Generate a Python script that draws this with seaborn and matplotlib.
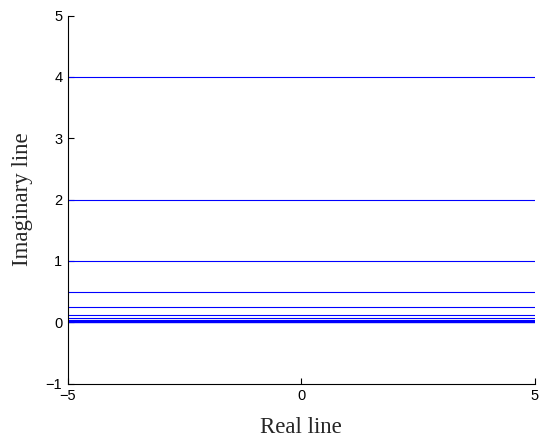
import numpy as np
import matplotlib
matplotlib.use("Agg")
import matplotlib.pyplot as plt
import pandas as pd
import seaborn as sns

# horizontal lines y = const over the real line
levels = [4, 2, 1, 0.5, 0.25, 0.125, 0.0625, 0.03125, 0.015625,
          0.0078125, 0.00390625, 0.001953125, 0]
x_ends = [-5, 5]
x_ticks = [-5, 0, 5]
y_ticks = [-1, 0, 1, 2, 3, 4, 5]


def build_df():
    rows = []
    for i, lv in enumerate(levels):
        for x in x_ends:
            rows.append([x, lv, i])
    return pd.DataFrame(rows, columns=['x', 'y', 'line'])


df = build_df()

sns.set_theme(style="ticks")
plt.rcParams['font.family'] = ['Liberation Sans', 'DejaVu Sans']
plt.rcParams['xtick.direction'] = 'in'
plt.rcParams['ytick.direction'] = 'in'

fig = plt.figure(figsize=(5.43, 4.44), dpi=100)
ax = fig.add_axes([0.125, 0.136, 0.86, 0.829])

sns.lineplot(data=df, x='x', y='y', hue='line', units='line', estimator=None,
             palette=['#0000ff'] * len(levels), lw=0.8, legend=False, ax=ax)

ax.set_xlim(-5, 5)
ax.set_ylim(-1, 5)
ax.set_xticks(x_ticks)
ax.set_yticks(y_ticks)
ax.tick_params(direction='in', length=4, width=0.8, labelsize=10.5, pad=4,
               colors='black')
sns.despine(ax=ax)
for s in ['left', 'bottom']:
    ax.spines[s].set_color('black')
    ax.spines[s].set_linewidth(0.8)

ax.set_xlabel('Real line', family='Liberation Serif', fontsize=16.5, labelpad=10)
ax.set_ylabel('Imaginary line', family='Liberation Serif', fontsize=16.5, labelpad=9)

fig.savefig('out.png', dpi=100)
